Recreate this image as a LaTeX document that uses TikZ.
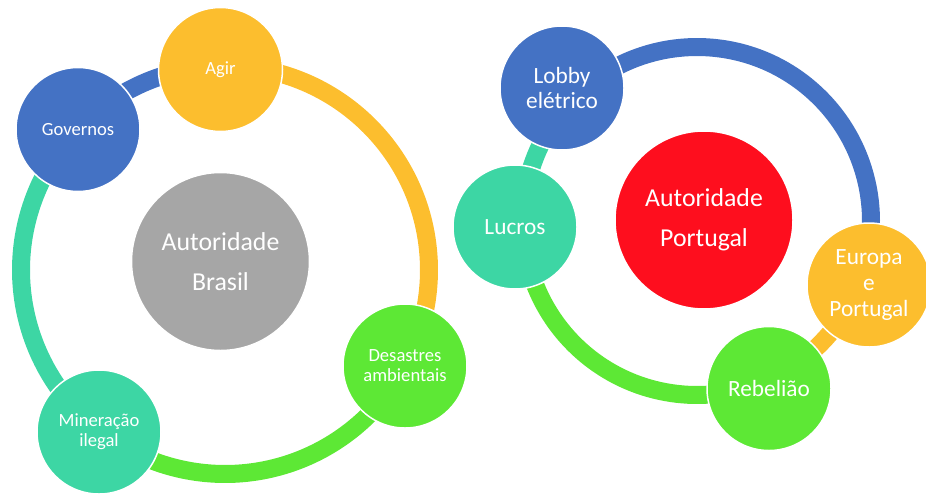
\documentclass[tikz,border=0pt]{standalone}
\usepackage{fontspec}
\setmainfont{Carlito}
\definecolor{cblue}{RGB}{68,114,196}
\definecolor{cyellow}{RGB}{252,190,46}
\definecolor{cgreen}{RGB}{93,232,53}
\definecolor{cteal}{RGB}{61,214,164}
\definecolor{cgray}{RGB}{166,166,166}
\definecolor{cred}{RGB}{254,14,30}

\begin{document}
\begin{tikzpicture}
    [x=1pt, y=1pt,
      every node/.style={circle, draw=white, line width=1.5pt, text=white,
        align=center, inner sep=0pt},
      smallsat/.style={minimum size=124pt, font=\fontsize{18.6}{20}\selectfont},
      bigsat/.style={minimum size=124pt, font=\fontsize{23.3}{25.6}\selectfont},
      hub/.style={minimum size=178pt, font=\fontsize{25.8}{40}\selectfont},
      ring/.style={line width=18pt},
     ]
    \useasboundingbox (0,0) rectangle (926,-493);
    \coordinate (bra0) at (225,-270);
    \coordinate (por0) at (697,-221);

    % ring Brasil
    \draw[ring, cblue] (bra0) ++(136.3:204) arc[start angle=136.3, end angle=91.3, radius=204];
    \draw[ring, cyellow] (bra0) ++(91.3:204) arc[start angle=91.3, end angle=-28.1, radius=204];
    \draw[ring, cgreen] (bra0) ++(-28.1:204) arc[start angle=-28.1, end angle=-127.9, radius=204];
    \draw[ring, cteal] (bra0) ++(232.1:204) arc[start angle=232.1, end angle=136.3, radius=204];

    % ring Portugal
    \draw[ring, cblue] (por0) ++(135.4:174) arc[start angle=135.4, end angle=-20.4, radius=174];
    \draw[ring, cyellow] (por0) ++(-20.4:174) arc[start angle=-20.4, end angle=-66.7, radius=174];
    \draw[ring, cgreen] (por0) ++(-66.7:174) arc[start angle=-66.7, end angle=-178.1, radius=174];
    \draw[ring, cteal] (por0) ++(181.9:174) arc[start angle=181.9, end angle=135.4, radius=174];

    \node[smallsat, fill=cblue] (gov) at (78,-129.5) {Governos};
    \node[smallsat, fill=cyellow] (agir) at (220.5,-69.5) {Agir};
    \node[smallsat, fill=cgreen] (desas) at (405,-366) {Desastres\\ambientais};
    \node[smallsat, fill=cteal] (miner) at (99,-432) {Mineração\\ilegal};
    \node[hub, fill=cgray] (bra) at (220.5,-261.5) {Autoridade\\Brasil};

    \node[bigsat, fill=cblue] (lobby) at (562,-88) {Lobby\\elétrico};
    \node[bigsat, fill=cteal] (lucros) at (515,-227) {Lucros};
    \node[bigsat, fill=cgreen] (rebel) at (769,-388.5) {Rebelião};
    \node[bigsat, fill=cyellow] (europa) at (869,-285) {Europa\\e\\Portugal};
    \node[hub, fill=cred] (por) at (704,-220) {Autoridade\\Portugal};
\end{tikzpicture}
\end{document}
